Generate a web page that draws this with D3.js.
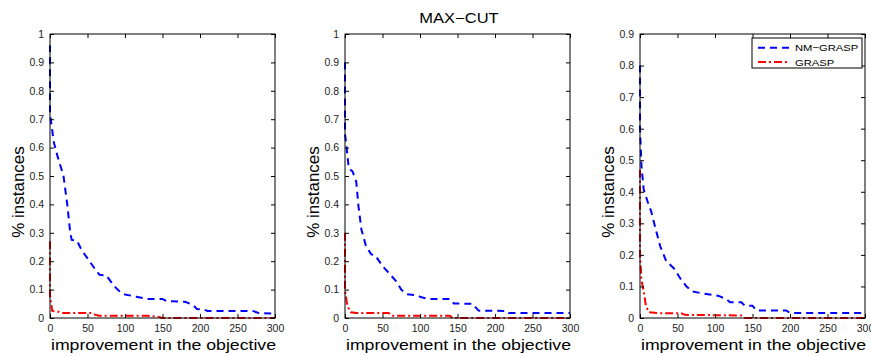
<!DOCTYPE html>
<html>
<head>
<meta charset="utf-8">
<script src="https://cdn.jsdelivr.net/npm/d3@7"></script>
<style>
  body { margin: 0; background: #fff; }
  svg { display: block; font-family: "Liberation Sans", Arial, sans-serif; }
  .tick text { font-size: 10.5px; fill: #222; }
</style>
</head>
<body>
<svg id="viz" width="871" height="356"></svg>
<script>
// improvement values (x) and fraction of instances (y), one curve per method and panel
var nmGrasp1 = [[0,0.96],[0,0.72],[5,0.62],[10,0.57],[18,0.50],[23,0.40],[27,0.30],[29,0.275],[36,0.272],[42,0.24],[50,0.21],[59,0.176],[66,0.152],[75,0.15],[86,0.111],[95,0.088],[100,0.083],[115,0.075],[130,0.067],[150,0.067],[156,0.059],[180,0.057],[190,0.047],[196,0.032],[205,0.03],[210,0.025],[270,0.025],[278,0.018],[300,0.015]];
var grasp1 = [[0,0.27],[0,0.08],[3,0.025],[10,0.023],[15,0.018],[55,0.018],[60,0.012],[65,0.008],[130,0.008],[145,0.004],[150,0],[300,0]];

var nmGrasp2 = [[0,0.9],[0,0.65],[3,0.58],[5,0.527],[10,0.516],[15,0.48],[18,0.393],[22,0.31],[28,0.253],[35,0.224],[40,0.222],[50,0.183],[60,0.154],[68,0.13],[75,0.10],[82,0.084],[95,0.08],[100,0.075],[110,0.067],[140,0.067],[145,0.051],[170,0.05],[178,0.026],[215,0.025],[218,0.018],[300,0.018]];
var grasp2 = [[0,0.3],[0,0.1],[3,0.043],[8,0.02],[15,0.018],[58,0.018],[62,0.008],[140,0.008],[143,0],[300,0]];

var nmGrasp3 = [[0,0.8],[0,0.6],[2,0.48],[5,0.406],[10,0.37],[15,0.337],[20,0.29],[27,0.227],[35,0.18],[45,0.158],[55,0.121],[62,0.10],[70,0.084],[85,0.077],[105,0.07],[115,0.06],[120,0.05],[135,0.05],[140,0.039],[150,0.039],[155,0.024],[195,0.024],[200,0.016],[300,0.016]];
var grasp3 = [[0,0.47],[0,0.2],[2,0.12],[5,0.084],[8,0.037],[12,0.018],[25,0.015],[55,0.015],[60,0.01],[135,0.008],[140,0],[300,0]];

var xTicks = [0, 50, 100, 150, 200, 250, 300];
var yMax = [1, 1, 0.9];
var seriesNames = ["NM\u2212GRASP", "GRASP"];

(function () {
  'use strict';

  var panels = [
    { left: 50,  nm: nmGrasp1, gr: grasp1, ymax: yMax[0] },
    { left: 345, nm: nmGrasp2, gr: grasp2, ymax: yMax[1], title: "MAX\u2212CUT" },
    { left: 640, nm: nmGrasp3, gr: grasp3, ymax: yMax[2], legend: true }
  ];

  var W = 225, plotTop = 34, plotBottom = 318;
  var wide = 1.18; // labels are set a bit wider than the stock sans face
  var svg = d3.select("#viz");
  var fmt = function (d) { return d === 0 ? "0" : String(+d.toFixed(1)); };

  var styles = [
    { color: "#0000ff", dash: "7,5" },
    { color: "#ff0000", dash: "8,3,2,3" }
  ];

  // text stretched horizontally around its anchor point
  function wideText(parent, x, y, size, anchor, str) {
    return parent.append("text")
      .attr("transform", "translate(" + x + "," + y + ") scale(" + wide + ",1)")
      .attr("text-anchor", anchor)
      .style("font-size", size + "px")
      .text(str);
  }

  panels.forEach(function (p) {
    var x = d3.scaleLinear().domain([0, 300]).range([p.left, p.left + W]);
    var y = d3.scaleLinear().domain([0, p.ymax]).range([plotBottom, plotTop]);
    var yTicks = d3.range(0, Math.round(p.ymax * 10) + 1).map(function (i) { return i / 10; });

    var line = d3.line().x(function (d) { return x(d[0]); }).y(function (d) { return y(d[1]); });

    // curves first so the frame sits on top
    [p.nm, p.gr].forEach(function (data, i) {
      svg.append("path")
        .datum(data)
        .attr("d", line)
        .attr("fill", "none")
        .attr("stroke", styles[i].color)
        .attr("stroke-width", 2)
        .attr("stroke-dasharray", styles[i].dash);
    });

    // axes with inward ticks on all four sides
    svg.append("g").attr("transform", "translate(0," + plotBottom + ")")
      .call(d3.axisBottom(x).tickValues(xTicks).tickSize(-4).tickPadding(7))
      .call(function (g) { g.select(".domain").remove(); });
    svg.append("g").attr("transform", "translate(0," + plotTop + ")")
      .call(d3.axisTop(x).tickValues(xTicks).tickSize(-4).tickFormat(""))
      .call(function (g) { g.select(".domain").remove(); });
    svg.append("g").attr("transform", "translate(" + p.left + ",0)")
      .call(d3.axisLeft(y).tickValues(yTicks).tickSize(-4).tickPadding(6).tickFormat(fmt))
      .call(function (g) { g.select(".domain").remove(); });
    svg.append("g").attr("transform", "translate(" + (p.left + W) + ",0)")
      .call(d3.axisRight(y).tickValues(yTicks).tickSize(-4).tickFormat(""))
      .call(function (g) { g.select(".domain").remove(); });

    svg.append("rect")
      .attr("x", p.left).attr("y", plotTop)
      .attr("width", W).attr("height", plotBottom - plotTop)
      .attr("fill", "none").attr("stroke", "#000").attr("stroke-width", 1);

    wideText(svg, p.left + W / 2 + 1, 350, 15, "middle", "improvement in the objective");

    svg.append("text")
      .attr("transform", "translate(" + (p.left - 26.5) + ",192) rotate(-90)")
      .attr("text-anchor", "middle")
      .style("font-size", "17px")
      .text("% instances");

    if (p.title) {
      wideText(svg, p.left + W / 2 + 1.5, 22.5, 14, "middle", p.title);
    }

    if (p.legend) {
      var lg = svg.append("g").attr("transform", "translate(752,38)");
      lg.append("rect").attr("width", 110).attr("height", 30)
        .attr("fill", "#fff").attr("stroke", "#000").attr("stroke-width", 1);
      seriesNames.forEach(function (name, i) {
        var yy = 9.7 + i * 14.3;
        lg.append("line")
          .attr("x1", 6).attr("x2", 38).attr("y1", yy).attr("y2", yy)
          .attr("stroke", styles[i].color).attr("stroke-width", 2)
          .attr("stroke-dasharray", styles[i].dash);
        wideText(lg, 43, yy + 3.5, 9.5, "start", name);
      });
    }
  });
})();
</script>
</body>
</html>
